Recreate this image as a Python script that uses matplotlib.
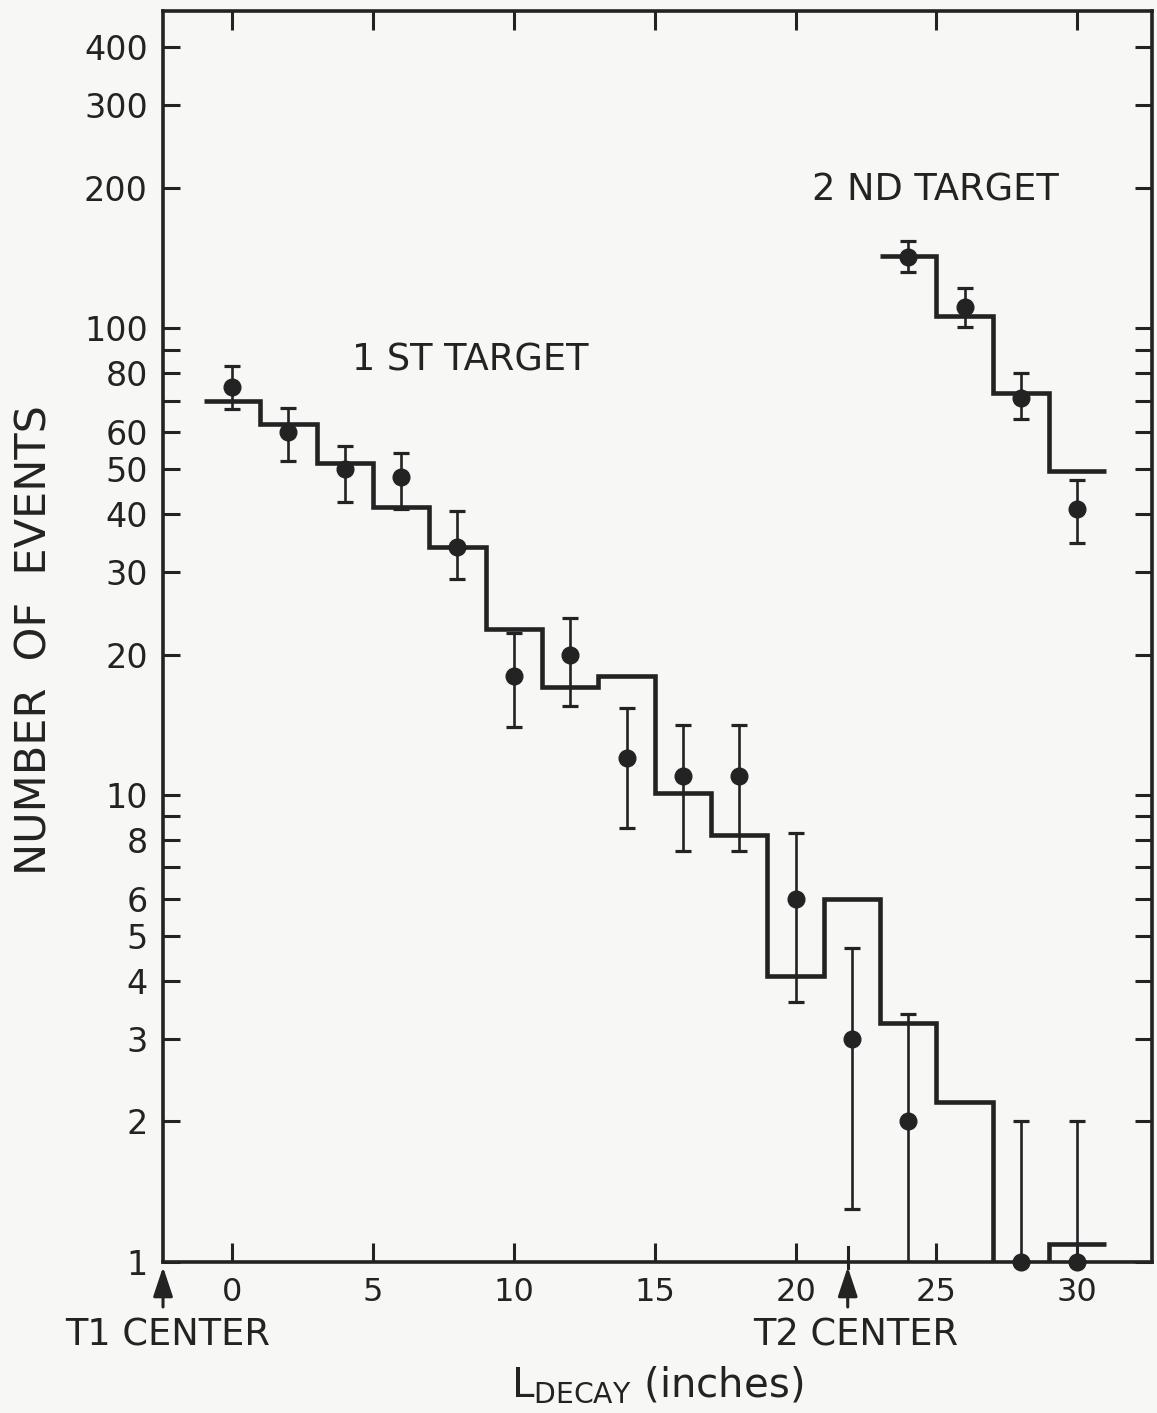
import numpy as np
import matplotlib.pyplot as plt
from matplotlib.ticker import FixedLocator, NullFormatter
import matplotlib.transforms as mtransforms

plt.rcParams['font.family'] = ['DejaVu Sans']
plt.rcParams['mathtext.fontset'] = 'dejavusans'

INK = '#232323'
PAPER = '#f7f7f5'

# measured decays, first target (0 counts drawn on the axis floor)
x1 = [0, 2, 4, 6, 8, 10, 12, 14, 16, 18, 20, 22, 24, 28, 30]
n1 = [75, 60, 50, 48, 34, 18, 20, 12, 11, 11, 6, 3, 2, 0, 0]
lo1 = [67, 52, 42.5, 41, 29, 14, 15.5, 8.5, 7.6, 7.6, 3.6, 1.3, 0.6, 0, 0]
hi1 = [83, 67.5, 56, 54, 40.5, 22.2, 24, 15.4, 14.1, 14.1, 8.3, 4.7, 3.4, 2.0, 2.0]

# measured decays, second target
x2 = [24, 26, 28, 30]
n2 = [142, 111, 71, 41]
lo2 = [132, 100.5, 64, 34.6]
hi2 = [154, 122, 80, 47.3]

# Monte Carlo expectation (histograms)
edges1 = np.arange(-1, 32, 2)
h1 = [70, 62.5, 51.5, 41.5, 34, 22.7, 17, 18, 10.1, 8.2, 4.1, 6, 3.25, 2.2, 0, 1.09]
edges2 = np.arange(23, 32, 2)
h2 = [143, 106, 72.5, 49.5]

y_ticks = [1, 2, 3, 4, 5, 6, 8, 10, 20, 30, 40, 50, 60, 80, 100, 200, 300, 400]
y_minor = [7, 9, 70, 90]
x_ticks = [0, 5, 10, 15, 20, 25, 30]

T1_CENTER = -2.45
T2_CENTER = 21.85
YMIN, YMAX = 1, 478

fig = plt.figure(figsize=(11.57, 14.13), dpi=100, facecolor=PAPER)
ax = fig.add_axes([0.1409, 0.1069, 0.8548, 0.8853], facecolor=PAPER)
ax.set_yscale('log')
ax.set_xlim(T1_CENTER, 32.65)
ax.set_ylim(YMIN, YMAX)


def points(x, n, lo, hi):
    n = np.asarray(n, float)
    yd = np.where(n > 0, n, YMIN)
    lo = np.where(np.asarray(lo) > 0, lo, 1e-3)
    err = [yd - lo, np.asarray(hi) - yd]
    ax.errorbar(x, yd, yerr=err, fmt='none', ecolor=INK, elinewidth=1.9,
                capsize=6, capthick=2.3)
    ax.plot(x, yd, 'o', color=INK, ms=12, clip_on=False, zorder=4)


points(x1, n1, lo1, hi1)
points(x2, n2, lo2, hi2)

h1p = np.where(np.asarray(h1) > 0, h1, 1e-3)
ax.stairs(h1p, edges1, baseline=None, color=INK, lw=3.3, joinstyle='miter')
ax.stairs(h2, edges2, baseline=None, color=INK, lw=3.3, joinstyle='miter')

ax.text(8.44, 85.4, '1 ST TARGET', ha='center', va='center', fontsize=26.5, color=INK)
ax.text(24.96, 197.5, '2 ND TARGET', ha='center', va='center', fontsize=26.5, color=INK)

# axes styling
for sp in ax.spines.values():
    sp.set_linewidth(2.6)
    sp.set_color(INK)

ax.yaxis.set_major_locator(FixedLocator(y_ticks))
ax.set_yticklabels([str(v) for v in y_ticks])
ax.yaxis.set_minor_locator(FixedLocator(y_minor))
ax.yaxis.set_minor_formatter(NullFormatter())
ax.set_xticks(x_ticks)
ax.set_xticklabels([str(v) for v in x_ticks])

ax.tick_params(axis='y', which='both', direction='in', left=True, right=True,
               length=12, width=2.2, color=INK, labelsize=24, labelcolor=INK, pad=11)
ax.tick_params(axis='x', which='both', direction='in', top=True, bottom=True,
               length=14, width=2.2, color=INK, labelsize=23, labelcolor=INK, pad=11)

# target-centre markers below the axis
trans = mtransforms.blended_transform_factory(ax.transData, ax.transAxes)
for xc in (T1_CENTER, T2_CENTER):
    ax.annotate('', xy=(xc, -0.004), xycoords=trans, xytext=(xc, -0.036),
                textcoords=trans,
                arrowprops=dict(arrowstyle='-|>,head_length=0.9,head_width=0.3',
                                mutation_scale=20, color=INK, lw=2.2,
                                shrinkA=0, shrinkB=0),
                annotation_clip=False)
ax.plot([T2_CENTER, T2_CENTER], [-0.005, 0.012], color=INK, lw=2.2,
        transform=trans, clip_on=False)

ax.text(-2.27, -0.058, 'T1 CENTER', transform=trans, ha='center', va='center',
        fontsize=26.5, color=INK)
ax.text(22.13, -0.058, 'T2 CENTER', transform=trans, ha='center', va='center',
        fontsize=26.5, color=INK)

fig.text(657 / 1157, 1 - 1385 / 1413, r'$\mathrm{L}_{\mathrm{DECAY}}$ (inches)',
         ha='center', va='center', fontsize=29, color=INK)
fig.text(35 / 1157, 1 - 640 / 1413, 'NUMBER  OF  EVENTS', rotation=90,
         ha='center', va='center', fontsize=31, color=INK)

fig.savefig('out.png', dpi=100, facecolor=PAPER)
